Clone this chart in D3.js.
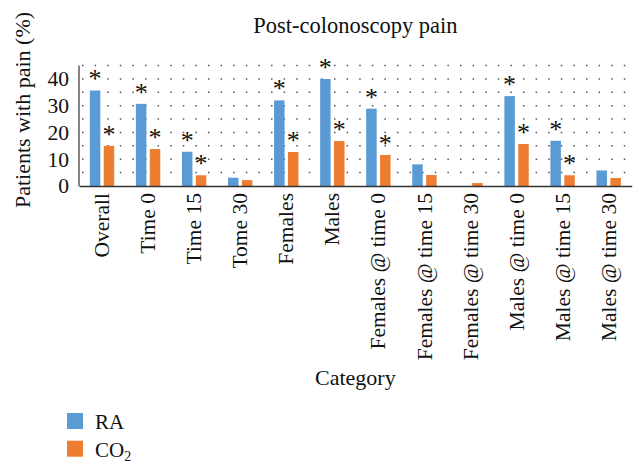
<!DOCTYPE html>
<html>
<head>
<meta charset="utf-8">
<script src="https://cdn.jsdelivr.net/npm/d3@7"></script>
<style>
  html, body { margin: 0; padding: 0; background: #fff; }
  svg { display: block; font-family: "Liberation Serif", "DejaVu Serif", serif; }
</style>
</head>
<body>
<svg id="chart" width="643" height="474"></svg>
<script>
const categories = ["Overall", "Time 0", "Time 15", "Tome 30", "Females", "Males",
  "Females @ time 0", "Females @ time 15", "Females @ time 30",
  "Males @ time 0", "Males @ time 15", "Males @ time 30"];
const seriesNames = ["RA", "CO2"];
const raValues  = [35.7, 30.7, 12.8, 3.1, 32.0, 40.0, 28.9, 8.1, 0, 33.6, 16.9, 5.8];
const co2Values = [15.0, 13.8, 4.0, 2.2, 12.7, 16.8, 11.6, 4.1, 1.1, 15.7, 4.0, 3.0];
const raSignificant  = [true, true, true, false, true, true, true, false, false, true, true, false];
const co2Significant = [true, true, true, false, true, true, true, false, false, true, true, false];
const yTicks = [0, 10, 20, 30, 40];
const gridValues = [5, 10, 15, 20, 25, 30, 35, 40, 45];
const colors = { RA: "#5B9BD5", CO2: "#ED7D31" };

const W = 643, H = 474;
const m = { left: 79, top: 65.6, right: 11.3, bottom: 288 };
const svg = d3.select("#chart");

const x0 = d3.scaleBand().domain(categories).range([m.left, W - m.right]).paddingInner(0).paddingOuter(0);
const x1 = d3.scaleBand().domain(seriesNames).range([0, x0.bandwidth()]).paddingInner(0.245).paddingOuter(0.78);
const y = d3.scaleLinear().domain([0, 45]).range([H - m.bottom, m.top]);

// title
svg.append("text").attr("x", (m.left + W - m.right) / 2).attr("y", 33)
  .attr("text-anchor", "middle").attr("font-size", 22.5).attr("fill", "#111")
  .text("Post-colonoscopy pain");

// dotted grid
svg.append("g").selectAll("line").data(gridValues).join("line")
  .attr("x1", m.left + 3).attr("x2", W - m.right - 2)
  .attr("y1", d => y(d)).attr("y2", d => y(d))
  .attr("stroke", "#555").attr("stroke-width", 1.5)
  .attr("stroke-dasharray", "1.5,11.1");

// y axis
const yAxis = svg.append("g").attr("transform", `translate(${m.left},0)`)
  .call(d3.axisLeft(y).tickValues(yTicks).tickSize(0).tickPadding(10));
yAxis.select(".domain").attr("stroke", "#333").attr("stroke-width", 1.2).attr("d", `M0,${y(45)}V${y(0)}`);
yAxis.selectAll("text").attr("font-size", 21.5).attr("font-family", "Liberation Serif").attr("fill", "#111");

// bars
const data = categories.map((c, i) => ({ c, i, vals: [
  { s: "RA", v: raValues[i], sig: raSignificant[i] },
  { s: "CO2", v: co2Values[i], sig: co2Significant[i] }] }));

const groups = svg.append("g").selectAll("g").data(data).join("g")
  .attr("transform", d => `translate(${x0(d.c)},0)`);
groups.selectAll("rect").data(d => d.vals).join("rect")
  .attr("x", d => x1(d.s)).attr("width", x1.bandwidth())
  .attr("y", d => y(d.v)).attr("height", d => y(0) - y(d.v))
  .attr("fill", d => colors[d.s]);
groups.selectAll("text.star").data(d => d.vals.filter(v => v.sig)).join("text")
  .attr("class", "star")
  .attr("x", d => x1(d.s) + x1.bandwidth() / 2)
  .attr("y", d => y(d.v) - 3)
  .attr("text-anchor", "middle").attr("font-size", 26).attr("fill", "#111")
  .text("*");

// x axis
const xAxis = svg.append("g").attr("transform", `translate(0,${y(0)})`)
  .call(d3.axisBottom(x0).tickSize(0).tickPadding(0));
xAxis.select(".domain").attr("stroke", "#333").attr("stroke-width", 1.6);
xAxis.selectAll("text")
  .attr("font-size", 21.5).attr("font-family", "Liberation Serif").attr("fill", "#111")
  .attr("text-anchor", "end")
  .attr("transform", "rotate(-90)")
  .attr("x", -7).attr("y", 0).attr("dy", "0.33em");

// axis titles
svg.append("text").attr("x", (m.left + W - m.right) / 2).attr("y", 385)
  .attr("text-anchor", "middle").attr("font-size", 22).attr("fill", "#111").text("Category");
svg.append("text").attr("transform", "translate(30,110) rotate(-90)")
  .attr("text-anchor", "middle").attr("font-size", 22).attr("fill", "#111").text("Patients with pain (%)");

// legend
const legend = svg.append("g").attr("transform", "translate(67,413)");
const li = legend.selectAll("g").data(seriesNames).join("g")
  .attr("transform", (d, i) => `translate(0,${i * 27.7})`);
li.append("rect").attr("width", 16).attr("height", 16).attr("fill", d => colors[d]);
const lt = li.append("text").attr("x", 28).attr("y", 16).attr("font-size", 21).attr("fill", "#111");
lt.each(function(d) {
  const t = d3.select(this);
  if (d === "CO2") {
    t.append("tspan").text("CO");
    t.append("tspan").attr("font-size", 14).attr("dy", 4).text("2");
  } else {
    t.text(d);
  }
});
</script>
</body>
</html>
